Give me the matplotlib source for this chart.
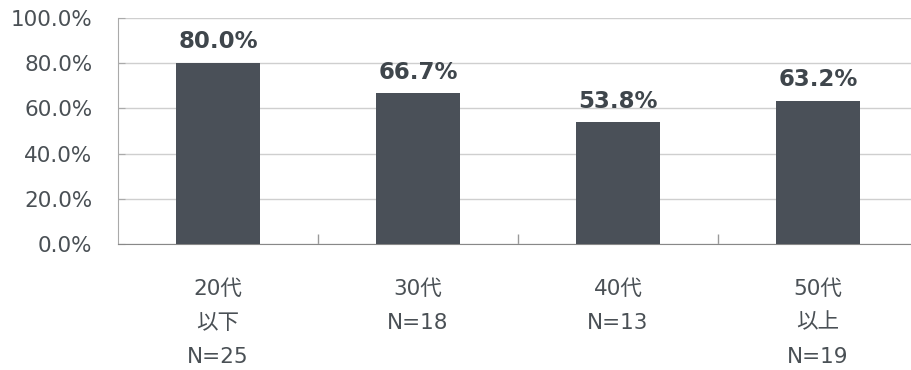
import matplotlib
matplotlib.use("Agg")
import matplotlib.pyplot as plt
from matplotlib.ticker import FixedLocator

plt.rcParams['font.family'] = ['DejaVu Sans', 'Noto Sans CJK JP']

categories = ["20代\n以下\nN=25", "30代\nN=18", "40代\nN=13", "50代\n以上\nN=19"]
values = [80.0, 66.7, 53.8, 63.2]
yticks = [0, 20, 40, 60, 80, 100]
ytick_labels = ["0.0%", "20.0%", "40.0%", "60.0%", "80.0%", "100.0%"]

fig = plt.figure(figsize=(9.11, 3.70), dpi=100)
ax = fig.add_axes([118/911, 1-244/370, 800/911, (244-18)/370])

x = list(range(len(values)))
ax.bar(x, values, width=0.42, color="#4a5058", zorder=3)
for xi, v in zip(x, values):
    ax.annotate(f"{v:.1f}%", (xi, v), xytext=(0, 7), textcoords="offset points",
                ha="center", va="bottom", fontsize=16.5, fontweight="bold", color="#3f464c")

ax.set_xlim(-0.5, 3.5)
ax.set_ylim(0, 100)
ax.set_yticks(yticks)
ax.set_yticklabels(ytick_labels)
ax.set_xticks(x)
ax.set_xticklabels(categories, linespacing=1.87)
ax.xaxis.set_minor_locator(FixedLocator([0.5, 1.5, 2.5]))
ax.tick_params(axis="x", which="major", length=0, pad=25, labelsize=15.5, labelcolor="#4a5055")
ax.tick_params(axis="x", which="minor", length=7, direction="in", color="#999999", width=1)
ax.tick_params(axis="y", length=5, direction="in", color="#aaaaaa", pad=18.5, labelsize=15.5, labelcolor="#4a5055")

ax.grid(axis="y", color="#cfcfcf", linewidth=1, zorder=0)
for s in ["top", "right"]:
    ax.spines[s].set_visible(False)
ax.spines["left"].set_color("#aaaaaa")
ax.spines["bottom"].set_color("#888888")

fig.savefig("out.png", dpi=100)
